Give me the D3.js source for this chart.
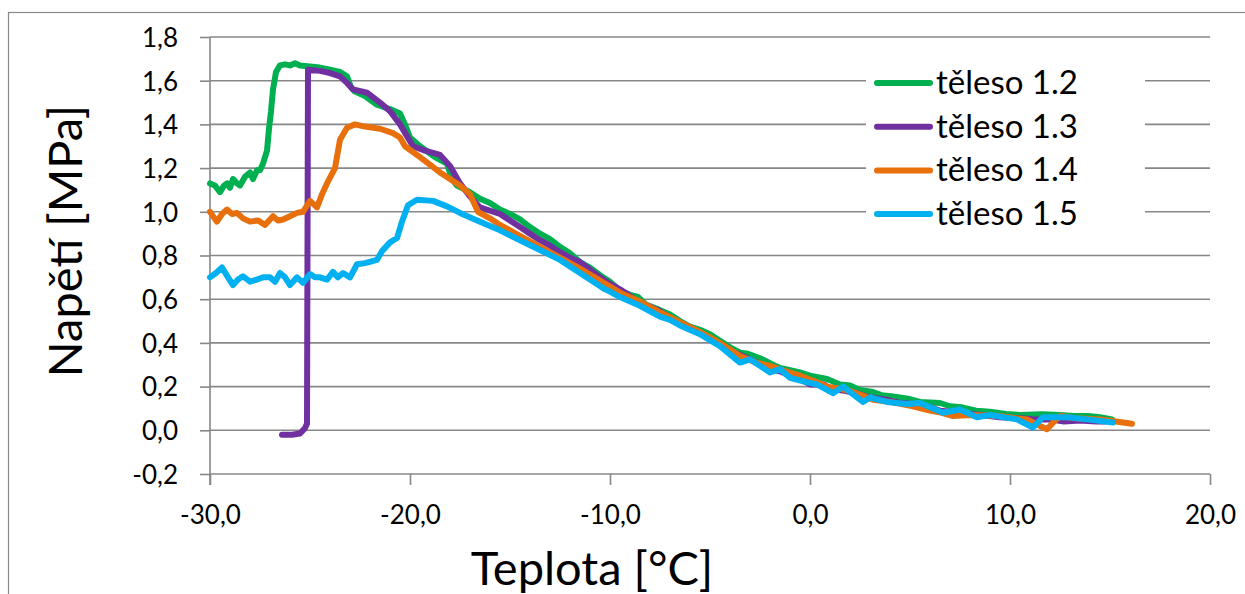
<!DOCTYPE html>
<html>
<head>
<meta charset="utf-8">
<script src="https://cdn.jsdelivr.net/npm/d3@7"></script>
<style>
  body { margin: 0; background: #fff; }
  svg text { font-family: Lato, "Open Sans", sans-serif; fill: #000; }
</style>
</head>
<body>
<div id="chart"></div>
<script>
// ticks
var xTicks = [-30, -20, -10, 0, 10, 20];
var yTicks = [-0.2, 0, 0.2, 0.4, 0.6, 0.8, 1.0, 1.2, 1.4, 1.6, 1.8];
var seriesNames = ["těleso 1.2", "těleso 1.3", "těleso 1.4", "těleso 1.5"];
var seriesColors = ["#00b050", "#7030a0", "#e8700c", "#00b0f0"];

// [teplota, napětí]
var teleso12 = [[-30.0,1.13],[-29.75,1.12],[-29.5,1.09],[-29.3,1.12],[-29.15,1.13],[-29.0,1.11],[-28.85,1.15],[-28.65,1.13],[-28.5,1.12],[-28.25,1.16],[-28.0,1.18],[-27.85,1.15],[-27.65,1.19],[-27.5,1.19],[-27.35,1.22],[-27.15,1.28],[-27.05,1.38],[-26.95,1.46],[-26.85,1.56],[-26.7,1.64],[-26.5,1.67],[-26.25,1.675],[-26.0,1.67],[-25.75,1.68],[-25.5,1.67],[-25.0,1.665],[-24.5,1.66],[-24.0,1.65],[-23.5,1.64],[-23.15,1.62],[-22.95,1.57],[-22.75,1.55],[-22.25,1.53],[-21.65,1.49],[-21.0,1.47],[-20.5,1.45],[-20.25,1.40],[-20.0,1.34],[-19.5,1.30],[-18.75,1.25],[-18.15,1.22],[-17.9,1.15],[-17.65,1.12],[-17.0,1.09],[-16.5,1.06],[-16.0,1.04],[-15.5,1.01],[-15.0,0.99],[-14.5,0.965],[-14.0,0.93],[-13.5,0.90],[-13.0,0.875],[-12.5,0.84],[-12.0,0.81],[-11.5,0.77],[-11.0,0.745],[-10.5,0.71],[-10.0,0.68],[-9.5,0.64],[-9.0,0.62],[-8.6,0.61],[-8.2,0.575],[-7.5,0.55],[-7.0,0.53],[-6.5,0.50],[-6.0,0.475],[-5.5,0.46],[-5.0,0.44],[-4.5,0.41],[-4.0,0.38],[-3.5,0.355],[-3.1,0.35],[-2.5,0.33],[-1.85,0.30],[-1.5,0.285],[-0.5,0.265],[0.0,0.25],[0.85,0.235],[1.5,0.21],[2.0,0.205],[2.5,0.185],[3.15,0.175],[3.6,0.16],[4.15,0.155],[4.9,0.145],[5.5,0.13],[6.5,0.125],[7.0,0.11],[7.6,0.105],[8.3,0.09],[9.0,0.085],[9.8,0.075],[10.5,0.07],[11.6,0.073],[12.5,0.07],[13.2,0.065],[13.9,0.065],[14.5,0.06],[15.1,0.05]];

var teleso13 = [[-26.4,-0.02],[-25.9,-0.02],[-25.5,-0.015],[-25.25,0.01],[-25.15,0.03],[-25.1,1.65],[-24.5,1.645],[-24.0,1.635],[-23.5,1.62],[-23.15,1.59],[-22.85,1.56],[-22.15,1.545],[-21.5,1.50],[-21.0,1.46],[-20.5,1.40],[-19.85,1.30],[-19.25,1.28],[-18.5,1.26],[-18.0,1.21],[-17.5,1.13],[-17.0,1.07],[-16.5,1.02],[-15.5,0.99],[-15.0,0.96],[-14.5,0.93],[-14.0,0.90],[-13.5,0.87],[-13.0,0.845],[-12.5,0.815],[-12.0,0.79],[-11.5,0.77],[-11.0,0.735],[-10.5,0.70],[-10.0,0.67],[-9.5,0.645],[-9.0,0.615],[-8.5,0.58],[-8.0,0.565],[-7.5,0.545],[-7.0,0.515],[-6.5,0.49],[-6.0,0.47],[-5.5,0.445],[-5.0,0.42],[-4.5,0.39],[-4.0,0.36],[-3.5,0.345],[-3.0,0.325],[-2.5,0.30],[-2.0,0.28],[-1.5,0.27],[-1.0,0.25],[-0.5,0.235],[0.0,0.21],[0.7,0.21],[1.0,0.19],[1.8,0.18],[2.5,0.165],[3.0,0.15],[3.8,0.14],[4.5,0.125],[5.2,0.12],[6.0,0.105],[6.5,0.09],[7.5,0.08],[8.5,0.07],[9.5,0.06],[10.5,0.055],[11.3,0.05],[12.0,0.05],[12.7,0.04],[13.5,0.045],[14.3,0.04],[14.75,0.04]];

var teleso14 = [[-30.0,1.00],[-29.85,0.98],[-29.65,0.955],[-29.4,0.99],[-29.15,1.01],[-28.9,0.99],[-28.65,0.995],[-28.35,0.97],[-28.0,0.955],[-27.6,0.96],[-27.25,0.94],[-26.85,0.98],[-26.6,0.96],[-26.35,0.965],[-26.0,0.98],[-25.65,0.995],[-25.35,1.0],[-25.0,1.05],[-24.65,1.02],[-24.4,1.08],[-24.15,1.13],[-23.75,1.2],[-23.5,1.33],[-23.15,1.385],[-22.75,1.40],[-22.25,1.39],[-21.5,1.38],[-20.85,1.36],[-20.5,1.34],[-20.25,1.30],[-19.5,1.25],[-18.5,1.18],[-17.5,1.12],[-17.0,1.08],[-16.8,1.04],[-16.6,1.00],[-16.0,0.97],[-15.5,0.94],[-14.5,0.89],[-13.5,0.84],[-12.5,0.79],[-11.5,0.74],[-10.5,0.685],[-9.5,0.63],[-8.5,0.59],[-7.5,0.54],[-6.5,0.495],[-5.5,0.45],[-4.5,0.40],[-3.5,0.34],[-2.7,0.31],[-2.0,0.295],[-1.2,0.27],[-0.5,0.25],[0.2,0.225],[0.85,0.20],[1.5,0.19],[2.0,0.18],[2.6,0.16],[3.15,0.14],[4.0,0.13],[5.15,0.11],[6.0,0.09],[6.6,0.08],[7.15,0.065],[8.0,0.07],[9.5,0.065],[10.3,0.055],[10.85,0.05],[11.5,0.02],[11.85,0.005],[12.15,0.035],[12.5,0.065],[13.3,0.055],[14.5,0.05],[15.3,0.04],[16.1,0.03]];

var teleso15 = [[-30.0,0.70],[-29.7,0.72],[-29.4,0.745],[-29.1,0.70],[-28.85,0.665],[-28.6,0.69],[-28.35,0.705],[-28.0,0.68],[-27.65,0.69],[-27.35,0.70],[-27.0,0.70],[-26.75,0.68],[-26.5,0.72],[-26.25,0.70],[-26.0,0.665],[-25.65,0.70],[-25.35,0.675],[-25.0,0.715],[-24.75,0.70],[-24.5,0.70],[-24.15,0.69],[-23.85,0.725],[-23.6,0.70],[-23.35,0.72],[-23.0,0.70],[-22.65,0.76],[-22.25,0.765],[-21.65,0.78],[-21.4,0.82],[-21.0,0.86],[-20.65,0.88],[-20.4,0.955],[-20.1,1.03],[-19.65,1.055],[-18.85,1.05],[-18.15,1.025],[-17.5,0.995],[-16.5,0.955],[-15.5,0.915],[-14.5,0.87],[-13.5,0.825],[-12.5,0.78],[-11.5,0.72],[-10.5,0.66],[-10.25,0.645],[-10.0,0.635],[-9.5,0.61],[-8.5,0.57],[-7.5,0.52],[-7.0,0.505],[-6.5,0.48],[-5.5,0.44],[-4.5,0.385],[-3.5,0.31],[-3.0,0.325],[-2.0,0.265],[-1.5,0.28],[-1.0,0.24],[-0.15,0.22],[0.35,0.21],[1.15,0.17],[1.65,0.20],[2.65,0.13],[3.0,0.15],[3.85,0.13],[4.85,0.12],[5.5,0.125],[6.65,0.08],[7.5,0.095],[8.35,0.06],[9.0,0.07],[10.35,0.05],[11.15,0.013],[11.65,0.06],[12.85,0.06],[13.85,0.05],[15.15,0.036]];

var allSeries = [teleso12, teleso13, teleso14, teleso15];

var W = 1245, H = 594;
var plot = {left: 210, right: 1210, top: 37, bottom: 474};

var svg = d3.select("#chart").append("svg")
    .attr("width", W)
    .attr("height", H);

// outer chart border
svg.append("rect")
    .attr("x", 8.5).attr("y", 12.5)
    .attr("width", 1300).attr("height", 700)
    .attr("fill", "none")
    .attr("stroke", "#898989")
    .attr("stroke-width", 1.2);

var x = d3.scaleLinear().domain([-30, 20]).range([plot.left, plot.right]);
var y = d3.scaleLinear().domain([-0.2, 1.8]).range([plot.bottom, plot.top]);

var fmt = function (d) { return d3.format(".1f")(d).replace(".", ",").replace("−", "-"); };

// horizontal gridlines
svg.append("g")
    .selectAll("line")
    .data(yTicks.filter(function (d) { return d > -0.2; }))
    .enter()
    .append("line")
    .attr("x1", plot.left).attr("x2", plot.right)
    .attr("y1", function (d) { return y(d); })
    .attr("y2", function (d) { return y(d); })
    .attr("stroke", "#878787")
    .attr("stroke-width", 1.6);

// Y axis
var yAxis = svg.append("g")
    .attr("transform", "translate(" + plot.left + ",0)")
    .call(d3.axisLeft(y).tickValues(yTicks).tickSize(10).tickPadding(22).tickFormat(fmt));
yAxis.selectAll("text").attr("font-size", 26).attr("dy", "0.36em");

// X axis
var xAxis = svg.append("g")
    .attr("transform", "translate(0," + plot.bottom + ")")
    .call(d3.axisBottom(x).tickValues(xTicks).tickSize(11).tickPadding(21).tickFormat(fmt));
xAxis.selectAll("text").attr("font-size", 26);

svg.selectAll(".domain, .tick line")
    .attr("stroke", "#878787")
    .attr("stroke-width", 1.6);
yAxis.select(".domain").attr("d", "M0," + plot.top + "V" + (plot.bottom + 11));
xAxis.select(".domain").attr("d", "M" + plot.left + ",0H" + plot.right);

// legend backdrop hides gridlines
svg.append("rect")
    .attr("x", 866).attr("y", 60)
    .attr("width", 279).attr("height", 176)
    .attr("fill", "#fff");

// data lines
var line = d3.line()
    .x(function (d) { return x(d[0]); })
    .y(function (d) { return y(d[1]); });

svg.append("g")
    .selectAll("path")
    .data(allSeries)
    .enter()
    .append("path")
    .attr("d", line)
    .attr("fill", "none")
    .attr("stroke", function (d, i) { return seriesColors[i]; })
    .attr("stroke-width", 6)
    .attr("stroke-linejoin", "round")
    .attr("stroke-linecap", "round");

// legend
var legend = svg.append("g")
    .selectAll("g")
    .data(seriesNames)
    .enter()
    .append("g")
    .attr("transform", function (d, i) { return "translate(877," + (83 + i * 43.7) + ")"; });

legend.append("line")
    .attr("x1", 0).attr("x2", 53)
    .attr("stroke", function (d, i) { return seriesColors[i]; })
    .attr("stroke-width", 6)
    .attr("stroke-linecap", "round");

legend.append("text")
    .attr("x", 59)
    .attr("y", 11)
    .attr("font-size", 33)
    .text(function (d) { return d; });

// axis titles
svg.append("text")
    .attr("x", 592)
    .attr("y", 585)
    .attr("text-anchor", "middle")
    .attr("font-size", 47)
    .text("Teplota [°C]");

svg.append("text")
    .attr("transform", "translate(82,241) rotate(-90)")
    .attr("text-anchor", "middle")
    .attr("font-size", 47)
    .text("Napětí [MPa]");
</script>
</body>
</html>
